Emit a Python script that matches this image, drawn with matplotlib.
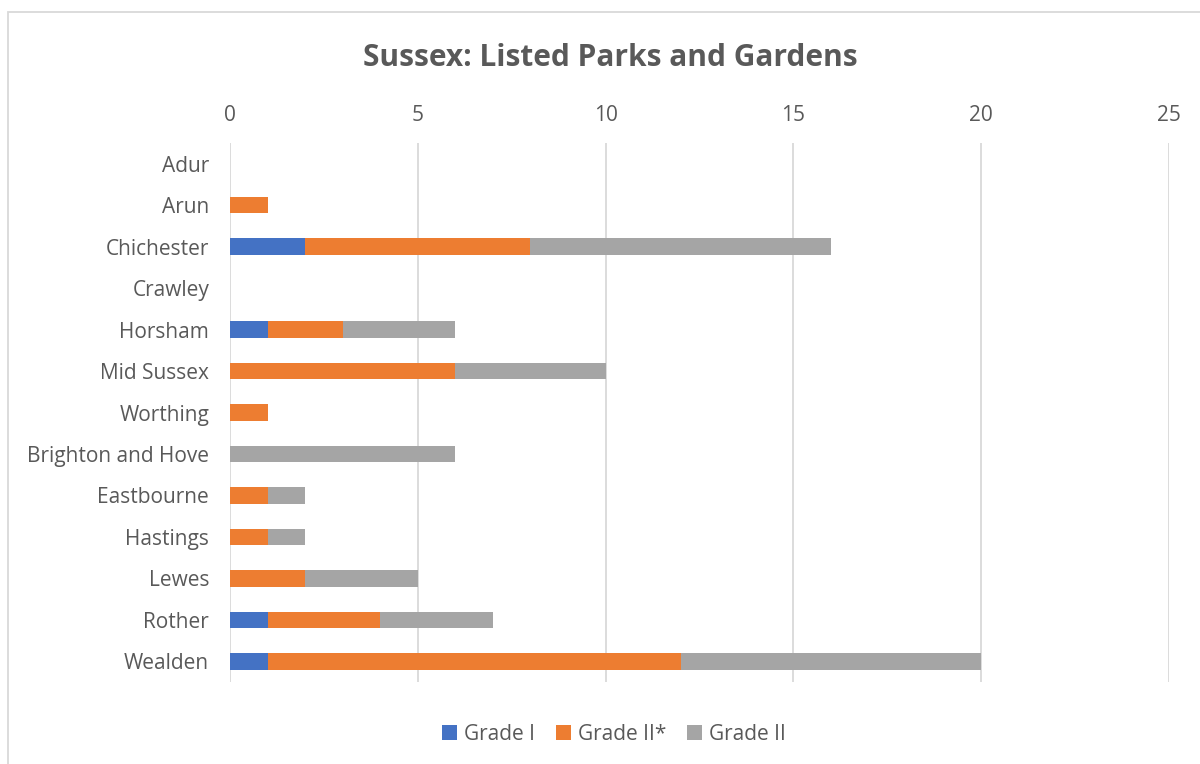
import matplotlib.pyplot as plt
import numpy as np
from matplotlib.patches import Rectangle

districts = ['Adur', 'Arun', 'Chichester', 'Crawley', 'Horsham', 'Mid Sussex',
             'Worthing', 'Brighton and Hove', 'Eastbourne', 'Hastings', 'Lewes',
             'Rother', 'Wealden']
grade_1 = [0, 0, 2, 0, 1, 0, 0, 0, 0, 0, 0, 1, 1]
grade_2star = [0, 1, 6, 0, 2, 6, 1, 0, 1, 1, 2, 3, 11]
grade_2 = [0, 0, 8, 0, 3, 4, 0, 6, 1, 1, 3, 3, 8]

plt.rcParams['font.family'] = ['Open Sans', 'DejaVu Sans']
txt = '#595959'

fig = plt.figure(figsize=(12, 7.64), dpi=100)
ax = fig.add_axes([230/1200, 1 - 682/764, 939/1200, 539/764])

y = np.arange(len(districts))
g1 = np.array(grade_1)
g2s = np.array(grade_2star)
g2 = np.array(grade_2)
h = 0.4
b1 = ax.barh(y, g1, height=h, color='#4472C4', label='Grade I')
b2 = ax.barh(y, g2s, left=g1, height=h, color='#ED7D31', label='Grade II*')
b3 = ax.barh(y, g2, left=g1 + g2s, height=h, color='#A5A5A5', label='Grade II')

ax.set_xlim(0, 25)
ax.set_ylim(len(districts) - 0.5, -0.5)
ax.set_xticks([0, 5, 10, 15, 20, 25])
ax.set_yticks(y)
ax.set_yticklabels(districts)
ax.xaxis.tick_top()
ax.tick_params(axis='x', length=0, pad=12, labelsize=15, labelcolor=txt)
ax.tick_params(axis='y', length=0, pad=15, labelsize=15, labelcolor=txt)
for s in ax.spines.values():
    s.set_visible(False)
ax.grid(axis='x', color='#D9D9D9', linewidth=1.3)
ax.set_axisbelow(True)

fig.text(610/1200, 1 - 58/764, 'Sussex: Listed Parks and Gardens', ha='center', va='center',
         fontsize=21.5, fontweight='bold', color=txt)

fig.legend(handles=[b1, b2, b3], loc='center', bbox_to_anchor=(614/1200, 1 - 734/764),
           ncol=3, frameon=False, fontsize=15, labelcolor=txt, handlelength=0.7,
           handleheight=0.7, handletextpad=0.35, columnspacing=1.0)

fig.patches.append(Rectangle((8/1200, -0.1), 1.2, 1 - 12/764 + 0.1, transform=fig.transFigure,
                             fill=False, edgecolor='#D9D9D9', linewidth=1.3))

fig.savefig('out.png', dpi=100)
